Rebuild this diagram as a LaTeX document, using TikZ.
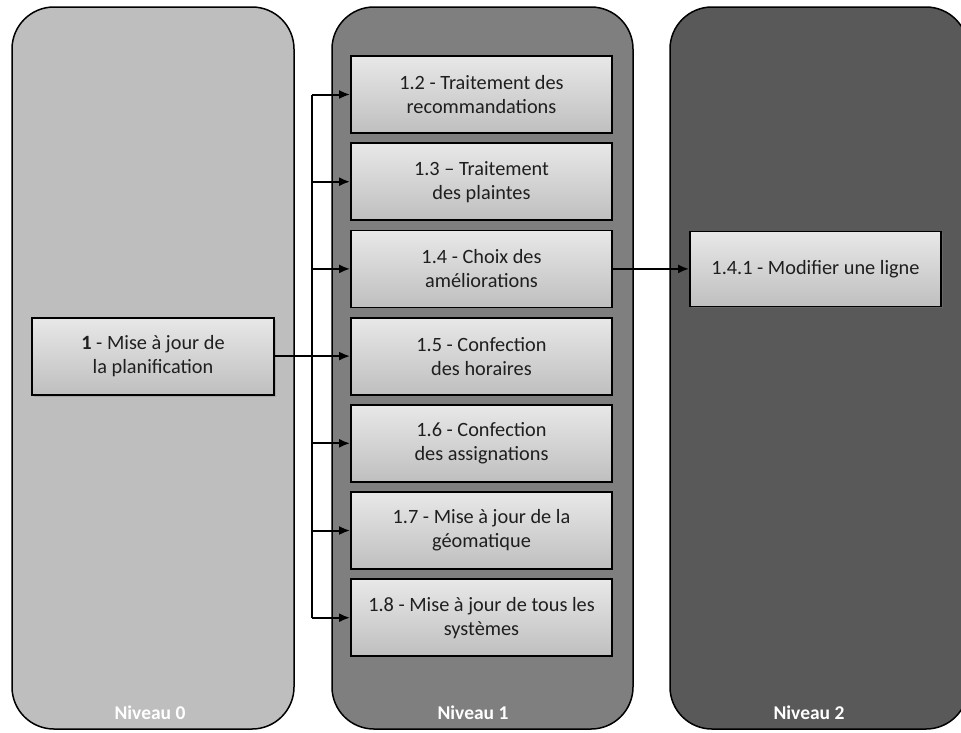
\documentclass[tikz,border=0pt]{standalone}
\usepackage{fontspec}
\setmainfont{Carlito}
\usetikzlibrary{arrows.meta}
\usetikzlibrary{shadows}
\definecolor{gris0}{HTML}{BEBEBE}
\definecolor{gris1}{HTML}{7F7F7F}
\definecolor{gris2}{HTML}{595959}
\definecolor{hautboite}{HTML}{E8E8E8}
\definecolor{basboite}{HTML}{BFBFBF}

\begin{document}
\begin{tikzpicture}[x=1pt, y=-1pt,
        niveau/.style={draw=black, line width=1.5pt, rounded corners=42pt, minimum height=722pt},
        titre/.style={text=white, font=\fontsize{19.5}{23}\selectfont\bfseries},
        tache/.style={draw=black, line width=1.8pt, top color=hautboite, bottom color=basboite,
            text=black!88, align=center, font=\fontsize{20.3}{24}\selectfont,
            minimum width=261pt, minimum height=77pt,
            drop shadow={shadow xshift=2pt, shadow yshift=-2pt, opacity=0.35}},
        fleche/.style={-{Latex[length=11pt,width=9pt]}, line width=2pt}]
        \useasboundingbox (0,0) rectangle (961,732);
        \node[niveau, fill=gris0, minimum width=282pt] (niv0) at (153,368)   {};
        \node[niveau, fill=gris1, minimum width=301pt] (niv1) at (482.5,368) {};
        \node[niveau, fill=gris2, minimum width=298pt] (niv2) at (819,368)   {};
        \node[titre] (titre0) at (150,713) {Niveau 0};
        \node[titre] (titre1) at (473,713) {Niveau 1};
        \node[titre] (titre2) at (809,713) {Niveau 2};
        \node[tache, minimum width=242pt] (t1) at (153,356.1) {\textbf{1} - Mise à jour de\\la planification};
        \node[tache] (t12) at (481.5,94.5)  {1.2 - Traitement des\\recommandations};
        \node[tache] (t13) at (481.5,181.7) {1.3 – Traitement\\des plaintes};
        \node[tache] (t14) at (481.5,268.9) {1.4 - Choix des\\améliorations};
        \node[tache] (t15) at (481.5,356.1) {1.5 - Confection\\des horaires};
        \node[tache] (t16) at (481.5,443.3) {1.6 - Confection\\des assignations};
        \node[tache] (t17) at (481.5,530.5) {1.7 - Mise à jour de la\\géomatique};
        \node[tache] (t18) at (481.5,617.7) {1.8 - Mise à jour de tous les\\systèmes};
        \node[tache, minimum width=251pt, minimum height=75pt] (t141) at (815.5,268.9) {1.4.1 - Modifier une ligne};
        \coordinate (bus) at (312,0);
        \draw[line width=2pt] (t12.west -| bus) -- (t18.west -| bus);
        \draw[fleche] (t1.east)         -- (t15.west);
        \draw[fleche] (t12.west -| bus) -- (t12.west);
        \draw[fleche] (t13.west -| bus) -- (t13.west);
        \draw[fleche] (t14.west -| bus) -- (t14.west);
        \draw[fleche] (t16.west -| bus) -- (t16.west);
        \draw[fleche] (t17.west -| bus) -- (t17.west);
        \draw[fleche] (t18.west -| bus) -- (t18.west);
        \draw[fleche] (t14.east)        -- (t141.west);
    \end{tikzpicture}
\end{document}
